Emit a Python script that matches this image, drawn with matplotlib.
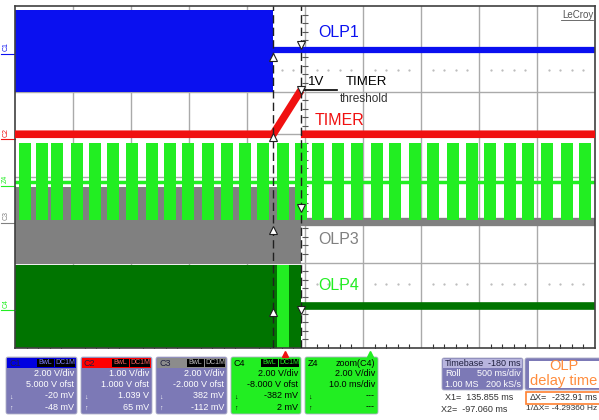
import matplotlib.pyplot as plt
from matplotlib.patches import FancyBboxPatch, Rectangle

plt.rcParams['font.family'] = ['Liberation Sans', 'DejaVu Sans']

# screen units: x in divisions (0..10), y in divisions (0..8)
cursor_x = [4.45, 4.93]

olp1_block_x = [0.0, 4.45]
olp1_block_lo, olp1_block_hi = 6.0, 7.91
olp1_x = [4.45, 10.0]
olp1_y = [6.98, 6.98]

# timer: flat, ramp to threshold, then back to low level after the cursor
timer_x = [0.0, 4.45, 4.93, 4.93, 4.93, 10.0]
timer_y = [5.0, 5.0, 6.03, float('nan'), 5.0, 5.0]

z4_burst_x = [0.17, 0.47, 0.72, 1.07, 1.38, 1.69, 2.02, 2.36, 2.67, 2.98,
              3.33, 3.66, 3.97, 4.28, 4.62, 4.93, 5.22, 5.57, 5.90, 6.24,
              6.55, 6.90, 7.21, 7.55, 7.88, 8.19, 8.53, 8.84, 9.17, 9.52, 9.83]
z4_burst_lo, z4_burst_hi = 3.0, 4.8
z4_base_y = 3.88

olp3_block_x = [0.0, 4.93]
olp3_block_lo, olp3_block_hi = 1.97, 3.77
olp3_x = [4.93, 10.0]
olp3_y = [2.95, 2.95]

olp4_block_x = [0.0, 4.93]
olp4_block_lo, olp4_block_hi = 0.0, 1.95
olp4_stripe_x = [4.52, 4.72]
olp4_x = [4.93, 10.0]
olp4_y = [0.98, 0.98]

mark1_y = [6.81, 4.94, 2.76, 0.84]
mark2_y = [7.09, 6.03, 3.27, 0.89]

chan_names = ['C1', 'C2', 'C3', 'C4']
chan_vdiv = ['2.00 V/div', '1.00 V/div', '2.00 V/div', '2.00 V/div']
chan_ofst = ['5.000 V ofst', '1.000 V ofst', '-2.000 V ofst', '-8.000 V ofst']
chan_low = ['-20 mV', '1.039 V', '382 mV', '-382 mV']
chan_high = ['-48 mV', '65 mV', '-112 mV', '2 mV']

BLUE = '#0a10f0'
RED = '#f01010'
GRAY = '#808080'
LIME = '#22ee22'
DKGREEN = '#007400'
LAV = '#7c79b6'

fig = plt.figure(figsize=(5.99, 4.20), dpi=100)
fig.patch.set_facecolor('white')

# bottom info panel in pixel units
pan = fig.add_axes([0, 0, 1, 1])
pan.set_xlim(0, 599)
pan.set_ylim(420, 0)
pan.axis('off')

ax = fig.add_axes([15 / 599, 72 / 420, 580 / 599, 342 / 420])
ax.set_xlim(0, 10)
ax.set_ylim(0, 8)
ax.set_xticks([])
ax.set_yticks([])
for s in ax.spines.values():
    s.set_color('#404040')
    s.set_linewidth(1.2)

# grid
for gx in range(1, 10):
    ax.axvline(gx, color='#aaaaaa', lw=1, zorder=0)
for gy in range(1, 8):
    ax.axhline(gy, color='#aaaaaa', lw=1, zorder=0)
minor_x = [i / 5 for i in range(1, 50) if i % 5]
minor_y = [i / 5 for i in range(1, 40) if i % 5]
ax.plot([5] * len(minor_y), minor_y, ls='none', marker='_', color='#555555',
        ms=5, mew=0.8, zorder=0.5)
ax.plot(minor_x, [0.03] * len(minor_x), ls='none', marker='|', color='#333333',
        ms=4, mew=0.8, zorder=0.5)
for ry in [6.5, 1.5]:
    ax.plot(minor_x, [ry] * len(minor_x), ls='none', marker='.', color='#b8b8b8',
            ms=1.2, zorder=0.5)

# C3 (gray) and C4 (dark green) blocks
ax.fill_between(olp3_block_x, olp3_block_lo, olp3_block_hi, color=GRAY, lw=0, zorder=1)
ax.plot(olp3_x, olp3_y, color=GRAY, lw=6, solid_capstyle='butt', zorder=1)
ax.fill_between(olp4_block_x, olp4_block_lo, olp4_block_hi, color=DKGREEN, lw=0, zorder=1)
ax.fill_between(olp4_stripe_x, olp4_block_lo, olp4_block_hi, color=LIME, lw=0, zorder=1.1)
ax.plot(olp4_x, olp4_y, color=DKGREEN, lw=5.5, solid_capstyle='butt', zorder=1)

# Z4 bursts
ax.axhline(z4_base_y, color=LIME, lw=2.5, zorder=2)
ax.bar(z4_burst_x, z4_burst_hi - z4_burst_lo, bottom=z4_burst_lo, width=0.2,
       color=LIME, lw=0, zorder=2)

# C1 (blue) and C2 (red)
ax.fill_between(olp1_block_x, olp1_block_lo, olp1_block_hi, color=BLUE, lw=0, zorder=2)
ax.plot(olp1_x, olp1_y, color=BLUE, lw=4.5, solid_capstyle='butt', zorder=2)
ax.plot(timer_x, timer_y, color=RED, lw=5.5, solid_capstyle='butt', zorder=3)

# cursors
for cx in cursor_x:
    ax.axvline(cx, color='#202020', lw=1, dashes=(6, 3), zorder=4)
ax.plot([cursor_x[0]] * len(mark1_y), mark1_y, ls='none', marker='^', ms=6,
        mfc='white', mec='#202020', mew=0.8, zorder=5)
ax.plot([cursor_x[1]] * len(mark2_y), mark2_y, ls='none', marker='v', ms=6,
        mfc='white', mec='#202020', mew=0.8, zorder=5)

# threshold annotation
ax.plot([cursor_x[1], 5.55], [6.03, 6.03], color='black', lw=1.2, zorder=4)
ax.text(5.05, 6.22, '1V', fontsize=9.5, color='black', va='center', zorder=6)
ax.text(5.7, 6.22, 'TIMER', fontsize=9.5, color='black', va='center', zorder=6)
ax.text(5.6, 5.82, 'threshold', fontsize=8.5, color='#333333', va='center', zorder=6)

# trace names
ax.text(5.22, 7.39, 'OLP1', color=BLUE, fontsize=11.5, va='center', zorder=6)
ax.text(5.17, 5.31, 'TIMER', color=RED, fontsize=11.5, va='center', zorder=6)
ax.text(5.22, 2.53, 'OLP3', color=GRAY, fontsize=11.5, va='center', zorder=6)
ax.text(5.22, 1.47, 'OLP4', color=LIME, fontsize=11.5, va='center', zorder=6)
ax.text(9.97, 7.8, 'LeCroy', color='#555555', fontsize=7, ha='right', va='center', zorder=6)
ax.plot([9.42, 9.97], [7.68, 7.68], color='#555555', lw=0.6, zorder=6)

# channel offset markers on the left
for name, lvl, col in zip(['C1', 'C2', 'Z4', 'C3', 'C4'],
                          [7.0, 5.0, 3.9, 3.05, 1.0],
                          [BLUE, RED, LIME, GRAY, LIME]):
    ax.text(-0.16, lvl + 0.05, name, color=col, fontsize=5, rotation=90,
            ha='center', va='center', clip_on=False)
    ax.plot([-0.25, 0], [lvl - 0.12, lvl - 0.12], color=col, lw=0.8, clip_on=False)

# trigger / zoom position markers
ax.plot([4.66], [-0.15], marker='^', color=RED, ms=4, clip_on=False)
ax.plot([6.12], [-0.15], marker='^', color=LIME, ms=4, clip_on=False)

# channel info boxes
box_x = [6, 81, 156, 231]
head_col = ['#0000e0', '#ff0000', '#8c8c8c', LIME]
label_col = ['#8080ff', '#ff6060', '#c0c0c0', LIME]
for i in range(4):
    x0 = box_x[i]
    w = 71 if i < 3 else 70
    body = LAV if i < 3 else LIME
    txt = 'white' if i < 3 else 'black'
    pan.add_patch(FancyBboxPatch((x0, 357), w, 57, boxstyle='round,pad=0,rounding_size=2',
                                 fc=body, ec='#b0b0c8', lw=0.6))
    pan.add_patch(Rectangle((x0 + 1, 358), w - 2, 10, fc=head_col[i], ec='none'))
    pan.text(x0 + 3, 363, chan_names[i], fontsize=6.5,
             color='#202040' if i < 3 else 'black', va='center')
    pan.add_patch(Rectangle((x0 + w - 40, 359), 17, 8, fc='black', ec='none'))
    pan.add_patch(Rectangle((x0 + w - 22, 359), 20, 8, fc='black', ec='none'))
    pan.text(x0 + w - 31.5, 363, 'BwL', fontsize=5, color=label_col[i], ha='center', va='center')
    pan.text(x0 + w - 12, 363, 'DC1M', fontsize=5, color=label_col[i], ha='center', va='center')
    pan.text(x0 + w - 3, 374, chan_vdiv[i], fontsize=6.5, color=txt, ha='right', va='center')
    pan.text(x0 + w - 3, 384.5, chan_ofst[i], fontsize=6.5, color=txt, ha='right', va='center')
    pan.text(x0 + w - 3, 396, chan_low[i], fontsize=6.5, color=txt, ha='right', va='center')
    pan.text(x0 + w - 3, 407, chan_high[i], fontsize=6.5, color=txt, ha='right', va='center')
    pan.text(x0 + 3, 397, '\u2193', fontsize=5, color=txt, va='center')
    pan.text(x0 + 3, 408, '\u2191', fontsize=5, color=txt, va='center')

# zoom box
pan.add_patch(FancyBboxPatch((305, 357), 73, 57, boxstyle='round,pad=0,rounding_size=2',
                             fc=LIME, ec='#b0b0c8', lw=0.6))
pan.text(308, 363, 'Z4', fontsize=6.5, color='black', va='center')
pan.text(375, 363, 'zoom(C4)', fontsize=6.5, color='black', ha='right', va='center')
pan.text(375, 374, '2.00 V/div', fontsize=6.5, color='black', ha='right', va='center')
pan.text(375, 384.5, '10.0 ms/div', fontsize=6.5, color='black', ha='right', va='center')
pan.text(375, 396, '---', fontsize=6.5, color='black', ha='right', va='center')
pan.text(375, 407, '---', fontsize=6.5, color='black', ha='right', va='center')
pan.text(308, 397, '\u2193', fontsize=5, color='black', va='center')
pan.text(308, 408, '\u2191', fontsize=5, color='black', va='center')

# timebase box
pan.add_patch(FancyBboxPatch((442, 358), 81, 32, boxstyle='round,pad=0,rounding_size=2',
                             fc=LAV, ec='#b0b0c8', lw=0.6))
pan.add_patch(Rectangle((443, 359), 79, 9, fc='#b8b5de', ec='none'))
pan.text(445, 363.5, 'Timebase', fontsize=6.5, color='#202040', va='center')
pan.text(521, 363.5, '-180 ms', fontsize=6.5, color='#202040', ha='right', va='center')
pan.text(445, 374, 'Roll', fontsize=6.5, color='white', va='center')
pan.text(521, 374, '500 ms/div', fontsize=6.5, color='white', ha='right', va='center')
pan.text(445, 384.5, '1.00 MS', fontsize=6.5, color='white', va='center')
pan.text(521, 384.5, '200 kS/s', fontsize=6.5, color='white', ha='right', va='center')

# trigger box covered by annotation
pan.add_patch(FancyBboxPatch((525, 358), 76, 32, boxstyle='round,pad=0,rounding_size=2',
                             fc=LAV, ec='#b0b0c8', lw=0.6))
pan.add_patch(Rectangle((529, 361), 72, 27, fc='white', ec='none'))
pan.text(564, 366, 'OLP', fontsize=10.5, color='#ff8c3c', ha='center', va='center')
pan.text(564, 381, 'delay time', fontsize=10.5, color='#ff8c3c', ha='center', va='center')

# cursor readouts
pan.add_patch(Rectangle((526, 391.5), 74, 12, fc='white', ec='#ff8030', lw=1.2))
pan.text(530, 397.5, '\u0394X=', fontsize=6.5, color='#303030', va='center')
pan.text(597, 397.5, '-232.91 ms', fontsize=6.5, color='#303030', ha='right', va='center')
pan.text(445, 398, 'X1=  135.855 ms', fontsize=6.5, color='#303030', va='center')
pan.text(441, 409, 'X2=  -97.060 ms', fontsize=6.5, color='#303030', va='center')
pan.text(597, 409, '1/\u0394X= -4.29360 Hz', fontsize=6, color='#303030',
         ha='right', va='center')

fig.savefig('out.png', dpi=100)
